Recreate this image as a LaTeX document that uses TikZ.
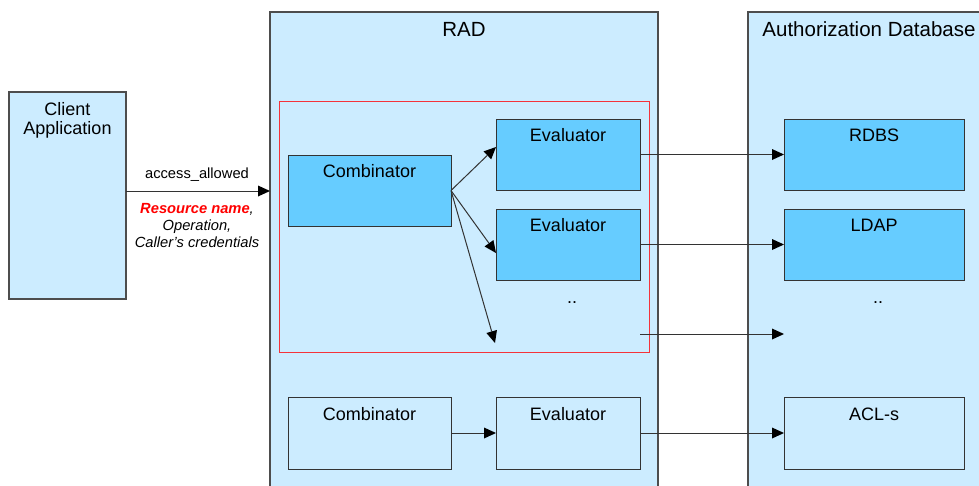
\documentclass[tikz,border=0pt]{standalone}
\usepackage{fontspec}
\setmainfont{Liberation Sans}
\usetikzlibrary{arrows.meta,calc}
\definecolor{paneblue}{HTML}{CCECFF}
\definecolor{boxblue}{HTML}{66CCFF}
\definecolor{edgegray}{HTML}{4D4D4D}
\definecolor{linegray}{HTML}{333333}
\definecolor{framered}{HTML}{F5333A}
\definecolor{keyred}{HTML}{FF0000}
\begin{document}
\begin{tikzpicture}[x=1pt,y=-1pt,
  pane/.style={draw=edgegray, line width=1.3pt, fill=paneblue, anchor=north west,
    inner sep=0, outer sep=0},
  unit/.style={draw=linegray, line width=1pt, anchor=north west, inner sep=0,
    outer sep=0, minimum width=#1, minimum height=71pt},
  solidunit/.style={unit=#1, fill=boxblue},
  plainunit/.style={unit=#1, fill=paneblue},
  title/.style={anchor=base, inner sep=0, font=\fontsize{20.5}{24}\selectfont},
  boxtext/.style={anchor=base, inner sep=0, font=\fontsize{18}{21}\selectfont},
  argtext/.style={anchor=base, inner sep=0, font=\fontsize{14.7}{17}\selectfont},
  flow/.style={draw=linegray, line width=1pt,
    -{Triangle[length=12pt,width=11pt,line width=0pt,fill=black,color=black]}},
]
\clip (0,0) rectangle (979,485);
\fill[white] (0,0) rectangle (979,485);

% containers
\node[pane, minimum width=117pt, minimum height=207pt] (client) at (9,92) {};
\node[pane, minimum width=388pt, minimum height=490pt] (rad) at (270,12) {};
\node[pane, minimum width=260pt, minimum height=490pt] (adb) at (748,12) {};
\node[draw=framered, line width=0.9pt, anchor=north west, inner sep=0, outer sep=0,
      minimum width=370pt, minimum height=251pt] (frame) at (279,101) {};

% container titles
\node[boxtext] (clientt1) at (67.5,115) {Client};
\node[boxtext] (clientt2) at (67.5,134.5) {Application};
\node[title] (radt) at (464,36.5) {RAD};
\node[title] (adbt) at (869,36.5) {Authorization Database};

% boxes of the policy chain
\node[solidunit=163pt] (comb1) at (288,155) {};
\node[solidunit=144pt] (ev1) at (496,119) {};
\node[solidunit=144pt] (ev2) at (496,209) {};
\node[solidunit=180pt] (rdbs) at (784,119) {};
\node[solidunit=180pt] (ldap) at (784,209) {};
\node[plainunit=163pt, minimum height=72pt] (comb2) at (288,397) {};
\node[plainunit=144pt, minimum height=72pt] (ev3) at (496,397) {};
\node[plainunit=180pt, minimum height=72pt] (acl) at (784,397) {};

\node[boxtext] (comb1t) at ($(comb1.north)+(0,22)$) {Combinator};
\node[boxtext] (ev1t) at ($(ev1.north)+(0,22)$) {Evaluator};
\node[boxtext] (ev2t) at ($(ev2.north)+(0,22)$) {Evaluator};
\node[boxtext] (rdbst) at ($(rdbs.north)+(0,22)$) {RDBS};
\node[boxtext] (ldapt) at ($(ldap.north)+(0,22)$) {LDAP};
\node[boxtext] (comb2t) at ($(comb2.north)+(0,23)$) {Combinator};
\node[boxtext] (ev3t) at ($(ev3.north)+(0,23)$) {Evaluator};
\node[boxtext] (aclt) at ($(acl.north)+(0,23)$) {ACL-s};
\node[boxtext] (evdots) at (572,303) {..};
\node[boxtext] (dbdots) at (878,303) {..};

% free ends of connectors
\coordinate (req) at (270,191);
\coordinate (t1) at (496,147);
\coordinate (t2) at (496,253);
\coordinate (t3) at (495,343);
\coordinate (moresrc) at (640,334);
\coordinate (moredst) at (784,334);

% request from the client
\draw[flow] (client.east |- req) -- (req);
\node[argtext] (access) at (197,178) {access\_allowed};
\node[argtext] (argname) at (197,213)
  {\itshape\textcolor{keyred}{\bfseries Resource name},};
\node[argtext] (argop) at (197,230) {\itshape Operation,};
\node[argtext] (argcred) at (197,247) {\itshape Caller’s credentials};

% combinator fan-out
\draw[flow] (comb1.east) -- (t1);
\draw[flow] (comb1.east) -- (t2);
\draw[flow] (comb1.east) -- (t3);
\draw[flow] (comb2.east |- ev3.west) -- (ev3.west);

% evaluators to stores
\draw[flow] (ev1.east) -- (rdbs.west);
\draw[flow] (ev2.east) -- (ldap.west);
\draw[flow] (moresrc) -- (moredst);
\draw[flow] (ev3.east) -- (acl.west);
\end{tikzpicture}
\end{document}
